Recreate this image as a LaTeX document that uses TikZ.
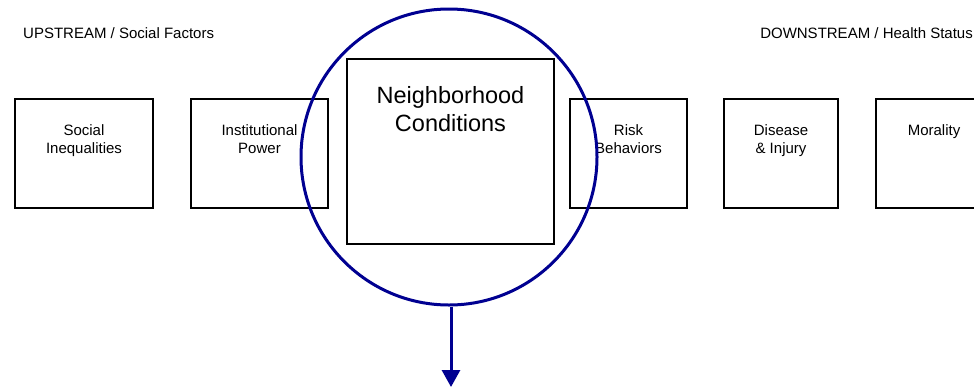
\documentclass[tikz,border=0pt]{standalone}
\usepackage{fontspec}
\setmainfont{Liberation Sans}
\usetikzlibrary{positioning, arrows.meta}
\definecolor{FocusBlue}{RGB}{0,0,145}
\begin{document}
\begin{tikzpicture}[x=1bp, y=-1bp]
    \tikzset{
        factor/.style={rectangle, draw=black, line width=1.3bp, inner sep=0pt,
            minimum width=#1, minimum height=109bp},
        factortext/.style={anchor=north, inner sep=0pt, align=center,
            font=\fontsize{15bp}{18bp}\selectfont},
        bigtext/.style={anchor=north, inner sep=0pt, align=center,
            font=\fontsize{23.5bp}{28bp}\selectfont},
        heading/.style={inner sep=0pt, font=\fontsize{15bp}{18bp}\selectfont},
        focus/.style={circle, draw=FocusBlue, line width=3bp, inner sep=0pt,
            minimum size=296bp},
        outflow/.style={draw=FocusBlue, line width=3bp,
            -{Triangle[length=17bp, width=18bp]}}
    }
    \clip (0,0) rectangle (974,388);
    % headings
    \node[heading, anchor=base west] (up) at (23,38) {UPSTREAM / Social Factors};
    \node[heading, anchor=base east] (down) at (973,38) {DOWNSTREAM / Health Status};
    % boxes
    \node[factor=138bp] (ineq) at (84,153.5) {};
    \node[factor=137bp] (power) at (259.5,153.5) {};
    \node[factor=207bp, minimum height=185bp] (hood) at (450.5,151.5) {};
    \node[factor=117bp] (risk) at (628.5,153.5) {};
    \node[factor=114bp] (disease) at (781,153.5) {};
    \node[factor=116bp] (mortal) at (934,153.5) {};
    \node[factortext] (ineqtext) at ([yshift=-26bp]ineq.north) {Social\\Inequalities};
    \node[factortext] (powertext) at ([yshift=-26bp]power.north) {Institutional\\Power};
    \node[bigtext] (hoodtext) at ([yshift=-28bp]hood.north) {Neighborhood\\Conditions};
    \node[factortext] (risktext) at ([yshift=-26bp]risk.north) {Risk\\Behaviors};
    \node[factortext] (diseasetext) at ([yshift=-26bp]disease.north) {Disease\\\& Injury};
    \node[factortext] (mortaltext) at ([yshift=-26bp]mortal.north) {Morality};
    % circle and arrow
    \node[focus] (ring) at (449,157) {};
    \coordinate (tip) at (451,387);
    \draw[outflow] (ring.south -| tip) -- (tip);
\end{tikzpicture}
\end{document}
